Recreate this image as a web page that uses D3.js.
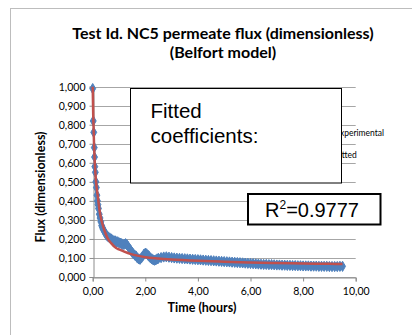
<!DOCTYPE html>
<html>
<head>
<meta charset="utf-8">
<script src="https://cdn.jsdelivr.net/npm/d3@7"></script>
<style>
  html, body { margin: 0; padding: 0; background: #fff; }
  svg { display: block; }
</style>
</head>
<body>
<div id="chart"></div>
<script>
// data
const expTime = [0.00, 0.02, 0.04, 0.06, 0.07, 0.08, 0.10, 0.12, 0.14, 0.16, 0.18, 0.20, 0.22, 0.25, 0.28, 0.31, 0.34, 0.37, 0.40, 0.44,
  0.48, 0.52, 0.56, 0.60, 0.65, 0.70, 0.75, 0.80, 0.85, 0.90, 0.95, 1.00, 1.05, 1.10, 1.15, 1.20, 1.25, 1.30, 1.35, 1.40,
  1.45, 1.50, 1.55, 1.60, 1.65, 1.70, 1.75, 1.80, 1.85, 1.90, 1.95, 2.00, 2.05, 2.10, 2.15, 2.20, 2.25, 2.30, 2.35, 2.40,
  2.45, 2.50, 2.60, 2.70, 2.80, 2.90, 3.00, 3.10, 3.20, 3.30, 3.40, 3.50, 3.60, 3.70, 3.80, 3.90, 4.00, 4.10, 4.20, 4.30,
  4.40, 4.50, 4.60, 4.70, 4.80, 4.90, 5.00, 5.10, 5.20, 5.30, 5.40, 5.50, 5.60, 5.70, 5.80, 5.90, 6.00, 6.10, 6.20, 6.30,
  6.40, 6.50, 6.60, 6.70, 6.80, 6.90, 7.00, 7.10, 7.20, 7.30, 7.40, 7.50, 7.60, 7.70, 7.80, 7.90, 8.00, 8.10, 8.20, 8.30,
  8.40, 8.50, 8.60, 8.70, 8.80, 8.90, 9.00, 9.10, 9.20, 9.30, 9.40, 9.50];
const expFlux = [0.990, 0.820, 0.760, 0.680, 0.630, 0.580, 0.550, 0.500, 0.470, 0.430, 0.400, 0.380, 0.360, 0.330, 0.310, 0.290, 0.270, 0.260, 0.250, 0.240,
  0.230, 0.220, 0.215, 0.210, 0.205, 0.200, 0.195, 0.190, 0.190, 0.185, 0.185, 0.180, 0.178, 0.175, 0.170, 0.172, 0.175, 0.170, 0.160, 0.150,
  0.140, 0.130, 0.122, 0.115, 0.110, 0.100, 0.095, 0.093, 0.100, 0.110, 0.120, 0.125, 0.122, 0.115, 0.108, 0.100, 0.095, 0.090, 0.088, 0.090,
  0.095, 0.098, 0.102, 0.105, 0.106, 0.104, 0.102, 0.100, 0.099, 0.098, 0.097, 0.096, 0.095, 0.094, 0.093, 0.092, 0.091, 0.090, 0.089, 0.088,
  0.087, 0.086, 0.085, 0.084, 0.083, 0.082, 0.081, 0.080, 0.079, 0.078, 0.077, 0.076, 0.075, 0.074, 0.073, 0.072, 0.071, 0.070, 0.069, 0.068,
  0.067, 0.066, 0.066, 0.065, 0.065, 0.064, 0.063, 0.063, 0.062, 0.062, 0.061, 0.061, 0.060, 0.060, 0.059, 0.059, 0.058, 0.058, 0.058, 0.057,
  0.057, 0.057, 0.056, 0.056, 0.056, 0.056, 0.055, 0.055, 0.055, 0.055, 0.056, 0.056];

const fitTime = [0.00, 0.02, 0.05, 0.08, 0.10, 0.15, 0.20, 0.25, 0.33, 0.40, 0.50, 0.58, 0.70, 0.89, 1.00, 1.20, 1.46, 2.00, 2.50, 3.00, 4.00, 5.00, 6.00, 7.00, 8.00, 9.00, 9.50];
const fitFlux = [1.000, 0.850, 0.700, 0.600, 0.550, 0.470, 0.420, 0.360, 0.300, 0.265, 0.225, 0.200, 0.178, 0.152, 0.145, 0.133, 0.120, 0.104, 0.097, 0.092, 0.085, 0.080, 0.076, 0.073, 0.071, 0.069, 0.068];

const yTicks = [0, 0.1, 0.2, 0.3, 0.4, 0.5, 0.6, 0.7, 0.8, 0.9, 1.0];
const xTicks = [0, 2, 4, 6, 8, 10];

const titleLines = ['Test Id. NC5 permeate flux (dimensionless)', '(Belfort model)'];
const legendNames = ['Experimental', 'Fitted'];

// settings
const width = 412;
const height = 335;
const margin = { top: 86.7, right: 56.3, bottom: 58, left: 92.7 };
const blue = '#4f81bd';
const red = '#c0504d';
const font = 'Lato, "Open Sans", sans-serif';
const fmtY = v => d3.format('.3f')(v).replace('.', ',');
const fmtX = v => d3.format('.2f')(v).replace('.', ',');

const svg = d3.select('#chart')
  .append('svg')
  .attr('width', width)
  .attr('height', height)
  .style('font-family', font);

// chart frame (runs off the right/bottom edges)
svg.append('rect')
  .attr('x', 10.5).attr('y', 8.5)
  .attr('width', 420).attr('height', 340)
  .attr('fill', '#fff')
  .attr('stroke', '#bdbdbd');

const x = d3.scaleLinear().domain([0, 10]).range([margin.left, width - margin.right]);
const y = d3.scaleLinear().domain([0, 1]).range([height - margin.bottom, margin.top]);

// title
svg.append('text')
  .attr('font-size', 16)
  .attr('font-weight', 'bold')
  .attr('text-anchor', 'middle')
  .selectAll('tspan')
  .data(titleLines)
  .join('tspan')
  .attr('x', 223)
  .attr('y', (d, i) => 39 + i * 18.5)
  .text(d => d);

// gridlines
svg.append('g')
  .selectAll('line')
  .data(yTicks)
  .join('line')
  .attr('x1', x(0)).attr('x2', x(10))
  .attr('y1', d => Math.round(y(d)) + 0.5).attr('y2', d => Math.round(y(d)) + 0.5)
  .attr('stroke', '#a6a6a6');

// axes
const yAxis = svg.append('g')
  .attr('transform', `translate(${Math.round(x(0)) + 0.5},0)`)
  .call(d3.axisLeft(y).tickValues(yTicks).tickFormat(fmtY).tickSize(4).tickPadding(4));
const xAxis = svg.append('g')
  .attr('transform', `translate(0,${Math.round(y(0)) + 0.5})`)
  .call(d3.axisBottom(x).tickValues(xTicks).tickFormat(fmtX).tickSize(4).tickPadding(6));
[yAxis, xAxis].forEach(g => {
  g.select('.domain').attr('stroke', '#8c8c8c');
  g.selectAll('.tick line').attr('stroke', '#8c8c8c');
  g.selectAll('.tick text')
    .attr('fill', '#000')
    .attr('font-size', 10.5)
    .attr('font-family', font);
});

// axis titles
svg.append('text')
  .attr('x', 202).attr('y', 312)
  .attr('text-anchor', 'middle')
  .attr('font-size', 12.5)
  .attr('font-weight', 'bold')
  .text('Time (hours)');
svg.append('text')
  .attr('transform', 'translate(45,187) rotate(-90)')
  .attr('text-anchor', 'middle')
  .attr('font-size', 12.5)
  .attr('font-weight', 'bold')
  .text('Flux (dimensionless)');

// experimental markers
const diamond = d3.symbol().type(d3.symbolDiamond).size(30);
svg.append('g')
  .selectAll('path')
  .data(expTime.map((t, i) => [t, expFlux[i]]))
  .join('path')
  .attr('transform', d => `translate(${x(d[0])},${y(d[1])})`)
  .attr('d', diamond)
  .attr('fill', blue)
  .attr('stroke', blue)
  .attr('stroke-width', 1)
  .attr('stroke-linejoin', 'round');

// fitted curve
const line = d3.line()
  .x(d => x(d[0]))
  .y(d => y(d[1]))
  .curve(d3.curveMonotoneX);
svg.append('path')
  .datum(fitTime.map((t, i) => [t, fitFlux[i]]))
  .attr('d', line)
  .attr('fill', 'none')
  .attr('stroke', red)
  .attr('stroke-width', 2.5);

// legend, mostly hidden behind the coefficient box
const legend = svg.append('g')
  .attr('transform', 'translate(335,0)');
legend.selectAll('text')
  .data(legendNames)
  .join('text')
  .attr('y', (d, i) => 136 + i * 22)
  .attr('font-size', 8.5)
  .text(d => d);

// coefficient box
svg.append('rect')
  .attr('x', 130.5).attr('y', 88.5)
  .attr('width', 211).attr('height', 94.5)
  .attr('fill', '#fff')
  .attr('stroke', '#000');
svg.append('text')
  .attr('font-family', '"Liberation Sans", Arial, sans-serif')
  .attr('font-size', 20.5)
  .selectAll('tspan')
  .data(['Fitted', 'coefficients:'])
  .join('tspan')
  .attr('x', 150.5)
  .attr('y', (d, i) => 118 + i * 25)
  .text(d => d);

// R² box
svg.append('rect')
  .attr('x', 248).attr('y', 194)
  .attr('width', 132.5).attr('height', 30.5)
  .attr('fill', '#fff')
  .attr('stroke', '#000')
  .attr('stroke-width', 2);
const r2 = svg.append('text')
  .attr('x', 265).attr('y', 217)
  .attr('font-family', '"Liberation Sans", Arial, sans-serif')
  .attr('font-size', 20);
r2.append('tspan').text('R');
r2.append('tspan').attr('font-size', 12).attr('dy', -8).text('2');
r2.append('tspan').attr('dy', 8).text('=0.9777');
</script>
</body>
</html>
